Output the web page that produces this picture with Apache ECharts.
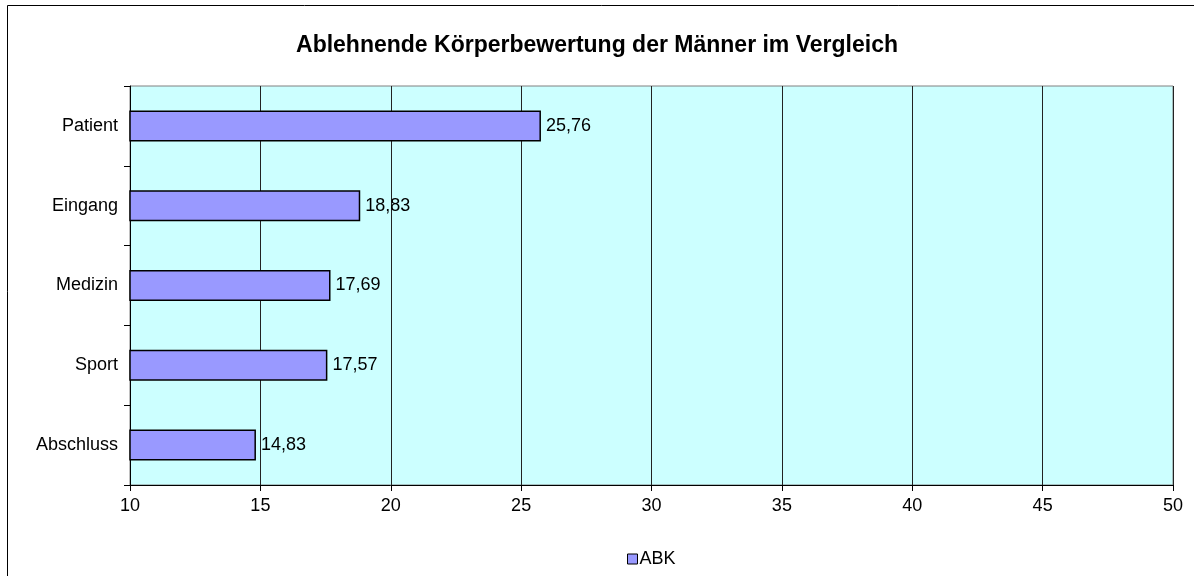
<!DOCTYPE html>
<html>
<head>
<meta charset="utf-8">
<script src="https://cdn.jsdelivr.net/npm/echarts@6/dist/echarts.min.js"></script>
<style>
  html, body { margin: 0; padding: 0; background: #fff; }
  #chart { width: 1194px; height: 576px; }
</style>
</head>
<body>
<div id="chart"></div>
<script>
var categories = ['Patient', 'Eingang', 'Medizin', 'Sport', 'Abschluss'];
var abkValues = [25.76, 18.83, 17.69, 17.57, 14.83];
var xMin = 10, xMax = 50, xStep = 5;

var chart = echarts.init(document.getElementById('chart'));
var font = 'Liberation Sans, Arial, sans-serif';

var options = {
    animation: false,
    backgroundColor: '#fff',
    textStyle: { fontFamily: font },
    title: {
        text: 'Ablehnende Körperbewertung der Männer im Vergleich',
        left: 'center',
        top: 29,
        textStyle: { fontFamily: font, fontSize: 23, fontWeight: 'bold', color: '#000' }
    },
    legend: {
        data: ['ABK'],
        bottom: 3,
        left: 622,
        itemWidth: 10,
        itemHeight: 10,
        itemGap: 4,
        icon: 'rect',
        itemStyle: { borderColor: '#000', borderWidth: 1 },
        textStyle: { fontFamily: font, fontSize: 18, color: '#000', padding: [0, 0, 0, -3] }
    },
    grid: {
        left: 130,
        top: 86,
        right: 21,
        bottom: 91,
        show: true,
        backgroundColor: '#CCFFFF',
        borderColor: '#808080',
        borderWidth: 1
    },
    graphic: [{
        type: 'rect',
        shape: { x: 7.5, y: 5.5, width: 1200, height: 600 },
        style: { fill: 'none', stroke: '#000', lineWidth: 1 },
        silent: true
    }],
    xAxis: {
        type: 'value',
        min: xMin,
        max: xMax,
        interval: xStep,
        axisLine: { show: true, lineStyle: { color: '#000' } },
        axisTick: { show: true, length: 6, lineStyle: { color: '#000' } },
        axisLabel: { fontFamily: font, fontSize: 18, color: '#000', margin: 12 },
        splitLine: { show: true, lineStyle: { color: '#222', width: 1 } }
    },
    yAxis: {
        type: 'category',
        data: categories,
        inverse: true,
        axisLine: { show: true, lineStyle: { color: '#000' } },
        axisTick: { show: true, length: 6, lineStyle: { color: '#000' } },
        axisLabel: { fontFamily: font, fontSize: 18, color: '#000', margin: 12 }
    },
    series: [{
        name: 'ABK',
        type: 'bar',
        data: abkValues,
        barWidth: 31,
        itemStyle: { color: '#9999FF', borderColor: '#000', borderWidth: 1.5 },
        label: {
            show: true,
            position: 'right',
            distance: 5,
            fontFamily: font,
            fontSize: 18,
            color: '#000',
            formatter: function (p) { return p.value.toFixed(2).replace('.', ','); }
        }
    }]
};
chart.setOption(options);
</script>
</body>
</html>
